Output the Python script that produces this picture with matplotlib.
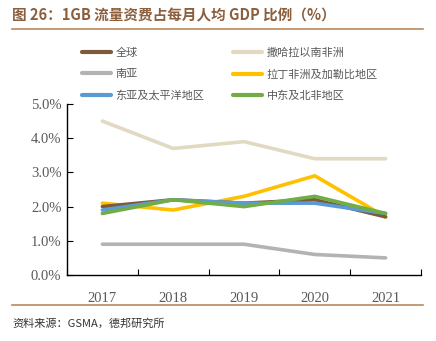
import matplotlib
matplotlib.use("Agg")
import matplotlib.pyplot as plt
from matplotlib.lines import Line2D

years = ["2017", "2018", "2019", "2020", "2021"]
series_names = ["全球", "撒哈拉以南非洲", "南亚", "拉丁非洲及加勒比地区", "东亚及太平洋地区", "中东及北非地区"]
global_v = [2.0, 2.2, 2.1, 2.2, 1.7]
ssa_v = [4.5, 3.7, 3.9, 3.4, 3.4]
south_asia_v = [0.9, 0.9, 0.9, 0.6, 0.5]
latam_v = [2.1, 1.9, 2.3, 2.9, 1.7]
east_asia_v = [1.9, 2.2, 2.1, 2.1, 1.8]
mena_v = [1.8, 2.2, 2.0, 2.3, 1.8]
yticks = [0, 1, 2, 3, 4, 5]

colors = ["#7B5B3A", "#E2D9C3", "#B3B3B3", "#FFC000", "#5B9BD5", "#70AD47"]
values = [global_v, ssa_v, south_asia_v, latam_v, east_asia_v, mena_v]

cjk = ["Noto Sans CJK SC", "DejaVu Sans"]
serif = ["Liberation Serif", "DejaVu Serif"]

fig = plt.figure(figsize=(4.36, 3.41), dpi=100)
W, H = 436, 341
ax = fig.add_axes([67 / W, 1 - 275 / H, (421 - 67) / W, (275 - 104) / H])

x = list(range(len(years)))
order = [1, 2, 3, 0, 4, 5]
for i in order:
    ax.plot(x, values[i], color=colors[i], lw=2.6, solid_capstyle="round", zorder=3)

ax.set_xlim(-0.5, len(years) - 0.5)
ax.set_ylim(0, 5)
ax.set_yticks(yticks)
ax.set_yticklabels([f"{v:.1f}%" for v in yticks], fontfamily=serif, fontsize=10.5, color="#595959")
ax.set_xticks([i - 0.5 for i in range(len(years) + 1)], minor=False)
ax.set_xticklabels([])
ax.set_xticks(x, minor=True)
ax.set_xticklabels(years, minor=True, fontfamily=serif, fontsize=10.5, color="#595959")
ax.tick_params(axis="x", which="major", direction="in", length=4, color="black")
ax.tick_params(axis="x", which="minor", length=0, pad=12)
ax.tick_params(axis="y", direction="in", length=4, color="black", pad=4)
for s in ["top", "right"]:
    ax.spines[s].set_visible(False)
for s in ["left", "bottom"]:
    ax.spines[s].set_color("black")
    ax.spines[s].set_linewidth(1.0)

# legend (row-major order: matplotlib fills column-major)
leg_order = [0, 2, 4, 1, 3, 5]
handles = [Line2D([0], [0], color=colors[i], lw=3, solid_capstyle="round") for i in leg_order]
labels = [series_names[i] for i in leg_order]
leg = fig.legend(handles, labels, loc="upper left", bbox_to_anchor=(72 / W, 1 - 38 / H),
                 ncol=2, frameon=False, prop={"family": cjk, "size": 8},
                 handlelength=2.6, handletextpad=0.4, columnspacing=2.6, labelspacing=1.0)
for t in leg.get_texts():
    t.set_color("#595959")

fig.text(12 / W, 1 - 15 / H, "图 26：1GB 流量资费占每月人均 GDP 比例（%）", fontfamily=cjk,
         fontsize=10.5, fontweight="bold", color="#8B5E3C", va="center", ha="left")
fig.add_artist(Line2D([12 / W, 423 / W], [1 - 28.5 / H, 1 - 28.5 / H], color="#B98A5E", lw=1.2))
fig.add_artist(Line2D([12 / W, 423 / W], [1 - 304.5 / H, 1 - 304.5 / H], color="#B98A5E", lw=1.2))
fig.text(12 / W, 1 - 323 / H, "资料来源：GSMA，德邦研究所", fontfamily=cjk, fontsize=8,
         color="#333333", va="center", ha="left")

fig.savefig("out.png", dpi=100)
